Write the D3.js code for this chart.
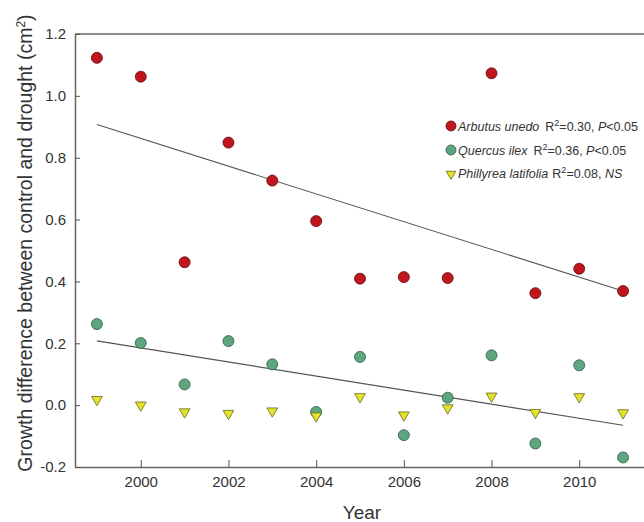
<!DOCTYPE html>
<html>
<head>
<meta charset="utf-8">
<script src="https://cdn.jsdelivr.net/npm/d3@7"></script>
<style>
  body { margin: 0; background: #fff; }
  text { font-family: Arial, 'Liberation Sans', sans-serif; fill: #333; }
</style>
</head>
<body>
<div id="diagram"></div>
<script>
// Data
var years = [1999, 2000, 2001, 2002, 2003, 2004, 2005, 2006, 2007, 2008, 2009, 2010, 2011];
var arbutus = [1.123, 1.062, 0.462, 0.849, 0.726, 0.595, 0.409, 0.414, 0.411, 1.073, 0.362, 0.441, 0.369];
var quercus = [0.262, 0.201, 0.067, 0.207, 0.132, -0.022, 0.156, -0.097, 0.024, 0.161, -0.124, 0.129, -0.169];
var phillyrea = [0.018, 0.0, -0.022, -0.027, -0.019, -0.035, 0.027, -0.032, -0.009, 0.029, -0.024, 0.027, -0.025];
var xTicks = [2000, 2002, 2004, 2006, 2008, 2010];
var yTicks = [-0.2, 0.0, 0.2, 0.4, 0.6, 0.8, 1.0, 1.2];

var w = 644;
var h = 522;

var svg = d3
  .select('#diagram')
  .append('svg')
  .attr('width', w)
  .attr('height', h);

// Scales
var xScale = d3.scaleLinear().domain([1998.5, 2011.5]).range([75, 645]);
var yScale = d3.scaleLinear().domain([-0.2, 1.2]).range([467, 34]);

// Frame top line (right side is cut off in the figure)
svg
  .append('line')
  .attr('x1', xScale.range()[0])
  .attr('x2', xScale.range()[1])
  .attr('y1', yScale.range()[1])
  .attr('y2', yScale.range()[1])
  .attr('stroke', '#666')
  .attr('stroke-width', 1.5);

// X axis
var xAxis = d3
  .axisBottom(xScale)
  .tickValues(xTicks)
  .tickFormat(d3.format('d'))
  .tickSizeInner(-7)
  .tickSizeOuter(0)
  .tickPadding(9);
var gx = svg
  .append('g')
  .attr('transform', `translate(0, ${yScale.range()[0]})`)
  .call(xAxis);

// Y axis
var yAxis = d3
  .axisLeft(yScale)
  .tickValues(yTicks)
  .tickFormat((d) => d.toFixed(1))
  .tickSizeInner(-5)
  .tickSizeOuter(0)
  .tickPadding(9);
var gy = svg
  .append('g')
  .attr('transform', `translate(${xScale.range()[0]}, 0)`)
  .call(yAxis);

[gx, gy].forEach((g) => {
  g.select('.domain').attr('stroke', '#666').attr('stroke-width', 1.5);
  g.selectAll('.tick line').attr('stroke', '#555');
  g.selectAll('.tick text')
    .attr('fill', '#333')
    .style('font-size', '15px')
    .style('font-family', 'Arial, Liberation Sans, sans-serif');
});

// Axis titles
svg
  .append('text')
  .attr('x', 362)
  .attr('y', 519)
  .attr('text-anchor', 'middle')
  .style('font-size', '19px')
  .text('Year');

var yTitle = svg
  .append('text')
  .attr('transform', 'translate(32, 243) rotate(-90)')
  .attr('text-anchor', 'middle')
  .style('font-size', '19.5px');
yTitle.append('tspan').text('Growth difference between control and drought (cm');
yTitle.append('tspan').attr('baseline-shift', 'super').style('font-size', '12px').text('2');
yTitle.append('tspan').text(')');

// Least squares fit line
function fitLine(values) {
  var mx = d3.mean(years);
  var my = d3.mean(values);
  var sxy = d3.sum(years, (x, i) => (x - mx) * (values[i] - my));
  var sxx = d3.sum(years, (x) => (x - mx) * (x - mx));
  var b = sxy / sxx;
  var a = my - b * mx;
  var x0 = years[0];
  var x1 = years[years.length - 1];
  return [[x0, a + b * x0], [x1, a + b * x1]];
}

var line = d3
  .line()
  .x((d) => xScale(d[0]))
  .y((d) => yScale(d[1]));

[arbutus, quercus].forEach((values) => {
  svg
    .append('path')
    .attr('d', line(fitLine(values)))
    .attr('fill', 'none')
    .attr('stroke', '#555')
    .attr('stroke-width', 1.1);
});

// Series styles
var series = [
  { values: quercus, shape: 'circle', fill: '#5ea67f', stroke: '#2d5a42' },
  { values: phillyrea, shape: 'triangle', fill: '#e3e32c', stroke: '#66661a' },
  { values: arbutus, shape: 'circle', fill: '#c1151e', stroke: '#5e0a0c' }
];

var triangle = d3.symbol().type(d3.symbolTriangle).size(50);

series.forEach((s) => {
  var g = svg.append('g');
  if (s.shape == 'circle') {
    g.selectAll('circle')
      .data(s.values)
      .enter()
      .append('circle')
      .attr('cx', (d, i) => xScale(years[i]))
      .attr('cy', (d) => yScale(d))
      .attr('r', 5.5)
      .attr('fill', s.fill)
      .attr('stroke', s.stroke)
      .attr('stroke-width', 0.8);
  } else {
    g.selectAll('path')
      .data(s.values)
      .enter()
      .append('path')
      .attr('d', triangle)
      .attr('transform', (d, i) => `translate(${xScale(years[i])}, ${yScale(d)}) rotate(180)`)
      .attr('fill', s.fill)
      .attr('stroke', s.stroke)
      .attr('stroke-width', 0.8);
  }
});

// Legend
var legendRows = [
  { name: 'Arbutus unedo', r2: '0.30', p: true, shape: 'circle', fill: '#c1151e', stroke: '#5e0a0c' },
  { name: 'Quercus ilex', r2: '0.36', p: true, shape: 'circle', fill: '#5ea67f', stroke: '#2d5a42' },
  { name: 'Phillyrea latifolia', r2: '0.08', p: false, shape: 'triangle', fill: '#e3e32c', stroke: '#66661a' }
];
var legendY = [131, 155, 178];

legendRows.forEach((row, i) => {
  var y = legendY[i];
  if (row.shape == 'circle') {
    svg
      .append('circle')
      .attr('cx', 451)
      .attr('cy', y - 5)
      .attr('r', 5)
      .attr('fill', row.fill)
      .attr('stroke', row.stroke)
      .attr('stroke-width', 0.8);
  } else {
    svg
      .append('path')
      .attr('d', d3.symbol().type(d3.symbolTriangle).size(40)())
      .attr('transform', `translate(451, ${y - 4}) rotate(180)`)
      .attr('fill', row.fill)
      .attr('stroke', row.stroke)
      .attr('stroke-width', 0.8);
  }

  var t = svg
    .append('text')
    .attr('x', 458)
    .attr('y', y)
    .style('font-size', '12.5px');
  t.append('tspan').style('font-style', 'italic').text(row.name);
  t.append('tspan').attr('dx', i == 2 ? 4 : 6).text('R');
  t.append('tspan').attr('baseline-shift', 'super').style('font-size', '9px').text('2');
  t.append('tspan').text('=' + row.r2 + ', ');
  if (row.p) {
    t.append('tspan').style('font-style', 'italic').text('P');
    t.append('tspan').text('<0.05');
  } else {
    t.append('tspan').style('font-style', 'italic').text('NS');
  }
});
</script>
</body>
</html>
